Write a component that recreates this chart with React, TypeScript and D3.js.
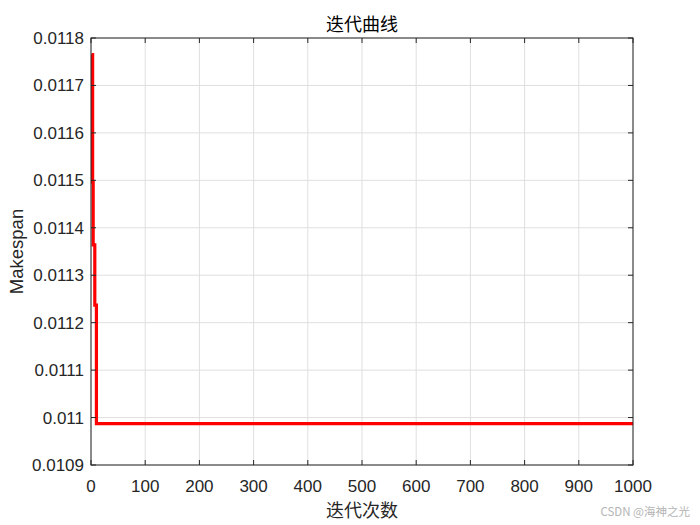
import React from 'react';
import * as d3 from 'd3';

// best-so-far makespan, stored as the iterations where it changes
const changeIters = [1, 3, 4, 7, 10];
const bestMakespan = [0.011765, 0.011496, 0.011364, 0.011237, 0.010987];
const lastIter = 1000;

const xTicks = [0, 100, 200, 300, 400, 500, 600, 700, 800, 900, 1000];
const yTicks = [0.0109, 0.011, 0.0111, 0.0112, 0.0113, 0.0114, 0.0115, 0.0116, 0.0117, 0.0118];
const yTickLabels = ['0.0109', '0.011', '0.0111', '0.0112', '0.0113', '0.0114', '0.0115', '0.0116', '0.0117', '0.0118'];

const W = 700;
const H = 525;
const margin = { top: 38, right: 67, bottom: 60, left: 91 };
const axisColor = '#262626';
const gridColor = '#dfdfdf';
const font = '"Liberation Sans", Arial, Helvetica, sans-serif';
const cjkFont = '"Noto Sans CJK SC", "Noto Sans", sans-serif';

export default function App(): React.ReactElement {
  const x = d3.scaleLinear().domain([0, lastIter]).range([margin.left, W - margin.right]);
  const y = d3.scaleLinear().domain([0.0109, 0.0118]).range([H - margin.bottom, margin.top]);

  const points: [number, number][] = changeIters.map((it, i) => [it, bestMakespan[i]]);
  points.push([lastIter, bestMakespan[bestMakespan.length - 1]]);

  const line = d3.line<[number, number]>()
    .x((d) => x(d[0]))
    .y((d) => y(d[1]))
    .curve(d3.curveStepAfter);

  const x0 = margin.left;
  const x1 = W - margin.right;
  const y0 = H - margin.bottom;
  const y1 = margin.top;
  const tickLen = 5;

  return (
    <svg width={W} height={H} style={{ position: 'absolute', left: 0, top: 0, background: '#fff' }}>
      <rect x={0} y={0} width={W} height={H} fill="#fff" />

      {/* grid */}
      <g stroke={gridColor} strokeWidth={1}>
        {xTicks.map((t) => (
          <line key={`gx${t}`} x1={x(t)} x2={x(t)} y1={y0} y2={y1} />
        ))}
        {yTicks.map((t) => (
          <line key={`gy${t}`} x1={x0} x2={x1} y1={y(t)} y2={y(t)} />
        ))}
      </g>

      {/* curve */}
      <path d={line(points) ?? ''} fill="none" stroke="#ff0000" strokeWidth={3.2} />

      {/* box + inward ticks */}
      <rect x={x0} y={y1} width={x1 - x0} height={y0 - y1} fill="none" stroke={axisColor} strokeWidth={1} />
      <g stroke={axisColor} strokeWidth={1}>
        {xTicks.map((t) => (
          <g key={`tx${t}`}>
            <line x1={x(t)} x2={x(t)} y1={y0} y2={y0 - tickLen} />
            <line x1={x(t)} x2={x(t)} y1={y1} y2={y1 + tickLen} />
          </g>
        ))}
        {yTicks.map((t) => (
          <g key={`ty${t}`}>
            <line x1={x0} x2={x0 + tickLen} y1={y(t)} y2={y(t)} />
            <line x1={x1} x2={x1 - tickLen} y1={y(t)} y2={y(t)} />
          </g>
        ))}
      </g>

      {/* tick labels */}
      <g fontFamily={font} fontSize={17} fill={axisColor}>
        {xTicks.map((t) => (
          <text key={`lx${t}`} x={x(t)} y={y0 + 27} textAnchor="middle">{t}</text>
        ))}
        {yTicks.map((t, i) => (
          <text key={`ly${t}`} x={x0 - 7} y={y(t) + 6} textAnchor="end">{yTickLabels[i]}</text>
        ))}
      </g>

      {/* labels */}
      <text x={(x0 + x1) / 2} y={31} textAnchor="middle" fontFamily={cjkFont} fontSize={18} fill="#000">迭代曲线</text>
      <text x={(x0 + x1) / 2} y={517} textAnchor="middle" fontFamily={cjkFont} fontSize={18} fill={axisColor}>迭代次数</text>
      <text
        transform={`translate(23, ${(y0 + y1) / 2}) rotate(-90)`}
        textAnchor="middle"
        fontFamily={font}
        fontSize={18.5}
        fill={axisColor}
      >
        Makespan
      </text>

      {/* watermark */}
      <text x={690} y={516} textAnchor="end" fontFamily={cjkFont} fontSize={11.5} fill="#b4b4b4">CSDN @海神之光</text>
    </svg>
  );
}
